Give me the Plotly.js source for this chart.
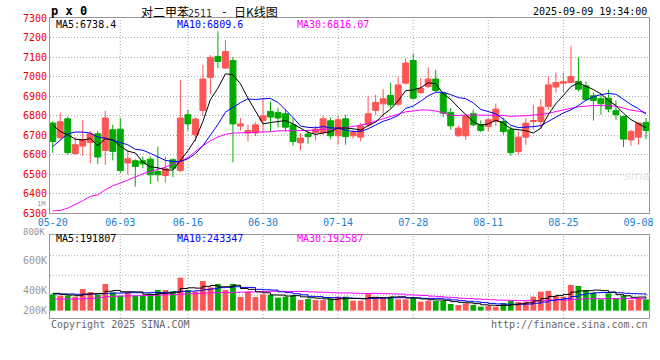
<!DOCTYPE html>
<html>
<head>
<meta charset="utf-8">
<script src="https://cdn.plot.ly/plotly-3.0.1.min.js"></script>
<style>html,body{margin:0;padding:0;background:#fff;}#chart{width:660px;height:360px;}</style>
</head>
<body>
<div id="chart"></div>
<script>
// ---------------- data ----------------
const dates = ['05-20','05-21','05-22','05-23','05-26','05-27','05-28','05-29','05-30',
  '06-03','06-04','06-05','06-06','06-09','06-10','06-11','06-12','06-13','06-16','06-17','06-18','06-19','06-20','06-23','06-24','06-25','06-26','06-27','06-30',
  '07-01','07-02','07-03','07-04','07-07','07-08','07-09','07-10','07-11','07-14','07-15','07-16','07-17','07-18','07-21','07-22','07-23','07-24','07-25','07-28','07-29','07-30','07-31',
  '08-01','08-04','08-05','08-06','08-07','08-08','08-11','08-12','08-13','08-14','08-15','08-18','08-19','08-20','08-21','08-22','08-25','08-26','08-27','08-28','08-29',
  '09-01','09-02','09-03','09-04','09-05','09-08','09-09'];
const labelDates = ['05-20','06-03','06-16','06-30','07-14','07-28','08-11','08-25','09-08'];
const gridDates = ['06-03','06-16','06-30','07-14','07-28','08-11','08-25'];
const priceTicks = [6300,6400,6500,6600,6700,6800,6900,7000,7100,7200,7300];

const openP = [6761,6686,6783,6605,6643,6662,6706,6621,6727,6730,
  6556,6568,6568,6576,6513,6492,6573,6518,6804,6701,
  6826,6995,7103,7043,7082,6746,6710,6710,6774,6821,
  6816,6809,6752,6660,6705,6713,6713,6773,6696,6783,
  6696,6689,6752,6826,6860,6903,6858,6966,7082,6918,
  6949,6987,6915,6816,6696,6696,6809,6752,6744,6769,
  6769,6727,6616,6689,6769,6769,6846,6946,6966,6969,
  6974,6952,6901,6886,6889,6826,6795,6675,6689,6764];
const highP = [6770,6814,6795,6689,6777,6720,6720,6824,6752,6787,
  6624,6575,6590,6590,6641,6588,6580,6983,6829,6790,
  7060,7110,7231,7188,7100,6787,6752,6765,6889,6872,
  6840,6830,6787,6710,6727,6747,6800,6790,6800,6804,
  6727,6761,6901,6906,6935,6969,6997,7094,7116,6992,
  7048,7034,6920,6838,6750,6800,6830,6775,6787,6860,
  6787,6744,6718,6787,6855,6884,7000,7020,7020,7157,
  7100,6974,6918,6906,6932,6877,6798,6727,6764,6787];
const lowP = [6608,6680,6600,6598,6592,6556,6552,6547,6570,6505,
  6496,6436,6530,6448,6462,6456,6484,6510,6723,6667,
  6795,6911,7043,7040,6560,6723,6667,6695,6710,6718,
  6740,6720,6645,6621,6655,6672,6700,6680,6650,6650,
  6680,6667,6740,6804,6792,6838,6850,6960,6880,6910,
  6940,6920,6792,6727,6690,6675,6745,6715,6720,6744,
  6701,6593,6598,6650,6727,6730,6829,6918,6918,6966,
  6923,6875,6774,6804,6816,6778,6638,6645,6650,6679];
const closeP = [6667,6768,6610,6650,6677,6706,6587,6787,6616,6518,
  6578,6539,6552,6496,6496,6527,6530,6787,6757,6782,
  6987,7098,7077,7128,6757,6757,6723,6752,6798,6792,
  6787,6740,6667,6684,6692,6730,6783,6696,6778,6692,
  6713,6747,6809,6867,6886,6855,6957,7069,6889,6940,
  6987,6928,6812,6747,6735,6795,6752,6723,6778,6833,
  6718,6610,6689,6761,6774,6843,6957,6969,6973,7000,
  6935,6881,6877,6860,6833,6804,6679,6718,6761,6723];
const ma5 = [6752,6718,6701,6679,6674,6682,6646,6681,6675,6643,
  6617,6608,6561,6537,6532,6522,6520,6567,6619,6677,
  6769,6882,6940,7014,7009,6963,6888,6823,6757,6764,
  6770,6774,6757,6734,6714,6703,6711,6717,6736,6736,
  6732,6725,6748,6766,6804,6833,6875,6927,6931,6942,
  6968,6963,6911,6883,6842,6803,6768,6750,6757,6776,
  6761,6732,6726,6722,6710,6735,6805,6861,6903,6948,
  6967,6952,6933,6911,6877,6851,6811,6779,6759,6737];
const ma10 = [6641,6676,6706,6715,6715,6710,6689,6684,6672,6659,
  6650,6627,6622,6606,6588,6570,6564,6564,6578,6604,
  6645,6701,6754,6817,6843,6866,6885,6882,6886,6887,
  6867,6831,6790,6746,6739,6737,6743,6737,6735,6725,
  6718,6718,6732,6751,6770,6783,6800,6837,6848,6873,
  6901,6919,6919,6907,6892,6886,6865,6831,6820,6809,
  6782,6750,6738,6739,6743,6748,6769,6793,6813,6829,
  6851,6878,6897,6907,6913,6909,6881,6856,6835,6807];
const ma30 = [6311,6313,6325,6342,6363,6385,6393,6419,6440,6453,
  6470,6487,6501,6513,6525,6535,6552,6564,6585,6615,
  6645,6670,6690,6703,6710,6711,6712,6713,6715,6717,
  6721,6720,6722,6723,6723,6724,6731,6728,6733,6739,
  6743,6750,6759,6771,6784,6795,6809,6819,6823,6828,
  6828,6823,6814,6801,6800,6802,6803,6802,6801,6802,
  6800,6796,6796,6799,6802,6806,6811,6820,6827,6837,
  6845,6849,6851,6851,6849,6848,6838,6827,6822,6815];
const volume = [257000,236000,241000,220000,341000,293000,251000,419000,288000,236000,
  293000,236000,236000,267000,324000,324000,304000,519000,324000,299000,
  466000,366000,419000,324000,419000,215000,299000,215000,257000,251000,
  205000,220000,241000,167000,184000,167000,167000,194000,220000,220000,
  157000,157000,272000,220000,205000,220000,178000,178000,205000,142000,
  157000,152000,152000,105000,89000,115000,89000,63000,73000,63000,
  121000,152000,136000,142000,220000,299000,309000,230000,220000,403000,
  387000,324000,283000,178000,272000,199000,236000,167000,194000,178000];
const volMa5 = [272000,257000,246000,235000,259000,266000,269000,305000,318000,297000,
  297000,294000,258000,254000,271000,277000,291000,348000,359000,354000,
  382000,395000,375000,375000,399000,349000,335000,294000,281000,247000,
  245000,230000,235000,217000,203000,196000,185000,176000,186000,194000,
  192000,190000,205000,205000,202000,215000,219000,200000,197000,185000,
  172000,167000,162000,142000,131000,123000,110000,92000,86000,81000,
  82000,94000,109000,123000,154000,190000,221000,240000,256000,292000,
  310000,313000,323000,315000,289000,251000,234000,210000,214000,195000];
const volMa10 = [262000,262000,262000,257000,257000,262000,267000,272000,275000,278000,
  282000,282000,281000,286000,284000,287000,293000,303000,306000,313000,
  330000,343000,361000,367000,376000,366000,365000,335000,328000,323000,
  297000,282000,265000,249000,225000,221000,207000,205000,202000,199000,
  194000,187000,191000,196000,198000,203000,204000,203000,201000,193000,
  193000,193000,181000,169000,158000,147000,138000,127000,114000,106000,
  102000,102000,101000,104000,117000,136000,158000,175000,189000,223000,
  250000,267000,282000,285000,291000,281000,273000,267000,264000,242000];
const volMa30 = [183000,183000,183000,185000,188000,195000,209000,220000,227000,230000,
  233000,235000,238000,241000,246000,251000,256000,261000,267000,272000,
  277000,280000,283000,285000,288000,290000,295000,299000,302000,305000,
  303000,302000,302000,301000,295000,291000,288000,281000,279000,278000,
  274000,271000,272000,271000,267000,263000,259000,248000,244000,238000,
  228000,221000,212000,205000,194000,190000,183000,178000,172000,166000,
  163000,161000,157000,157000,158000,162000,167000,168000,168000,174000,
  182000,187000,188000,186000,189000,188000,190000,189000,189000,190000];
const volTickText = ['200K','400K','600K'];

// ---------------- chart ----------------
const RED = '#ff5555', GREEN = '#00aa00';
const MONO = 'DejaVu Sans Mono';
const idx = dates.map((d, i) => i);
const labelIdx = labelDates.map(d => dates.indexOf(d));
const gridIdx = gridDates.map(d => dates.indexOf(d));
const volColors = closeP.map((c, i) => c >= openP[i] ? RED : GREEN);

const traces = [
  {type:'candlestick', x: idx, open: openP, high: highP, low: lowP, close: closeP,
   xaxis:'x', yaxis:'y', whiskerwidth:0, hoverinfo:'skip',
   increasing:{line:{color:RED, width:1}, fillcolor:RED},
   decreasing:{line:{color:GREEN, width:1}, fillcolor:GREEN}},
  {type:'scatter', mode:'lines', x: idx, y: ma30, xaxis:'x', yaxis:'y', line:{color:'#ff00ff', width:1}, hoverinfo:'skip'},
  {type:'scatter', mode:'lines', x: idx, y: ma10, xaxis:'x', yaxis:'y', line:{color:'#0000ff', width:1}, hoverinfo:'skip'},
  {type:'scatter', mode:'lines', x: idx, y: ma5, xaxis:'x', yaxis:'y', line:{color:'#000000', width:1}, hoverinfo:'skip'},
  {type:'bar', x: idx, y: volume, xaxis:'x2', yaxis:'y2', marker:{color: volColors, line:{width:0}}, hoverinfo:'skip'},
  {type:'scatter', mode:'lines', x: idx, y: volMa30, xaxis:'x2', yaxis:'y2', line:{color:'#ff00ff', width:1, shape:'hv'}, hoverinfo:'skip'},
  {type:'scatter', mode:'lines', x: idx, y: volMa10, xaxis:'x2', yaxis:'y2', line:{color:'#0000ff', width:1, shape:'hv'}, hoverinfo:'skip'},
  {type:'scatter', mode:'lines', x: idx, y: volMa5, xaxis:'x2', yaxis:'y2', line:{color:'#000000', width:1, shape:'hv'}, hoverinfo:'skip'}
];

// pixel helpers for text placement (plot box: x 50..649, y 18..318)
const PX = p => (p - 50) / 599;
const PY = p => (318 - p) / 300;
const DOT = '1px,2px';
const GRIDC = '#aaaaaa';

const shapes = [];
gridIdx.forEach(g => {
  shapes.push({type:'line', xref:'x', yref:'y domain', x0:g, x1:g, y0:0, y1:1, layer:'below', line:{color:GRIDC, width:1, dash:DOT}});
  shapes.push({type:'line', xref:'x2', yref:'y2 domain', x0:g, x1:g, y0:0, y1:1, layer:'below', line:{color:GRIDC, width:1, dash:DOT}});
});
const volGridVals = [242000, 556000, 863000];
volGridVals.forEach(v => {
  shapes.push({type:'line', xref:'x2 domain', yref:'y2', x0:0, x1:1, y0:v, y1:v, layer:'below', line:{color:GRIDC, width:1, dash:DOT}});
});

function ann(text, x, y, opts) {
  return Object.assign({text: text, xref:'paper', yref:'paper', x: PX(x), y: PY(y),
    xanchor:'left', yanchor:'middle', showarrow:false,
    font:{family:MONO, size:10, color:'#000'}}, opts || {});
}
const annotations = [
  ann('<b>p x 0</b>', 49, 11, {font:{family:MONO, size:12, color:'#000'}}),
  ann('对二甲苯', 139, 12, {font:{family:'Noto Sans CJK SC', size:12, color:'#000'}}),
  ann('2511', 186, 13, {font:{family:MONO, size:10, color:'#333'}}),
  ann('-', 219, 12, {font:{family:MONO, size:11, color:'#000'}}),
  ann('日K线图', 232, 12, {font:{family:'Noto Sans CJK SC', size:12, color:'#000'}}),
  ann('2025-09-09 19:34:00', 649, 12, {xanchor:'right'}),
  ann('MA5:6738.4', 54, 24),
  ann('MA10:6809.6', 175, 24, {font:{family:MONO, size:10, color:'#0000ff'}}),
  ann('MA30:6816.07', 295, 24, {font:{family:MONO, size:10, color:'#ff00ff'}}),
  ann('MA5:191807', 54, 238),
  ann('MA10:243347', 175, 238, {font:{family:MONO, size:10, color:'#0000ff'}}),
  ann('MA30:192587', 295, 238, {font:{family:MONO, size:10, color:'#ff00ff'}}),
  ann('800K', 47, 231.5, {xanchor:'right', font:{family:MONO, size:9, color:'#999'}}),
  ann('1M', 47, 204, {xanchor:'right', font:{family:MONO, size:7, color:'#999'}}),
  ann('Copyright 2025 SINA.COM', 49, 324, {font:{family:MONO, size:10, color:'#666'}}),
  ann('http://finance.sina.com.cn', 650, 324, {xanchor:'right', font:{family:MONO, size:10, color:'#666'}}),
  ann('<i>sina</i>', 622, 176, {font:{family:'DejaVu Sans', size:13, color:'#e6e6e6'}})
];

const xr = [-0.36, 79.4];
const layout = {
  width:660, height:360,
  margin:{l:50, r:11, t:18, b:42, pad:0},
  paper_bgcolor:'#fff', plot_bgcolor:'#fff',
  showlegend:false,
  boxgap:0.12, boxgroupgap:0.1,
  bargap:0.24,
  xaxis:{domain:[0,1], anchor:'y', range:xr, type:'linear', rangeslider:{visible:false},
    tickmode:'array', tickvals:labelIdx, ticktext:labelDates, ticks:'', showgrid:false, zeroline:false,
    showline:true, mirror:true, linecolor:'#999', linewidth:1,
    tickfont:{family:MONO, size:10, color:'#1a7fd0'}, fixedrange:true},
  yaxis:{domain:[0.35,1], anchor:'x', range:[6300,7300], tickmode:'array', tickvals:priceTicks,
    ticks:'', showgrid:true, gridcolor:GRIDC, griddash:DOT, gridwidth:1, zeroline:false,
    showline:true, mirror:true, linecolor:'#999', linewidth:1,
    tickfont:{family:MONO, size:10, color:'#ee0000'}, fixedrange:true},
  xaxis2:{domain:[0,1], anchor:'y2', range:xr, type:'linear', showticklabels:false, ticks:'',
    showgrid:false, zeroline:false, showline:true, mirror:true, linecolor:'#999', linewidth:1, fixedrange:true},
  yaxis2:{domain:[0,0.2767], anchor:'x2', range:[-115000, 1188000], tickmode:'array',
    tickvals:[0, 314000, 785000], ticktext:volTickText, ticks:'', showgrid:false, zeroline:false,
    showline:true, mirror:true, linecolor:'#999', linewidth:1,
    tickfont:{family:MONO, size:10, color:'#999'}, fixedrange:true},
  shapes: shapes,
  annotations: annotations
};

Plotly.newPlot('chart', traces, layout, {displayModeBar:false, staticPlot:true});
</script>
</body>
</html>
